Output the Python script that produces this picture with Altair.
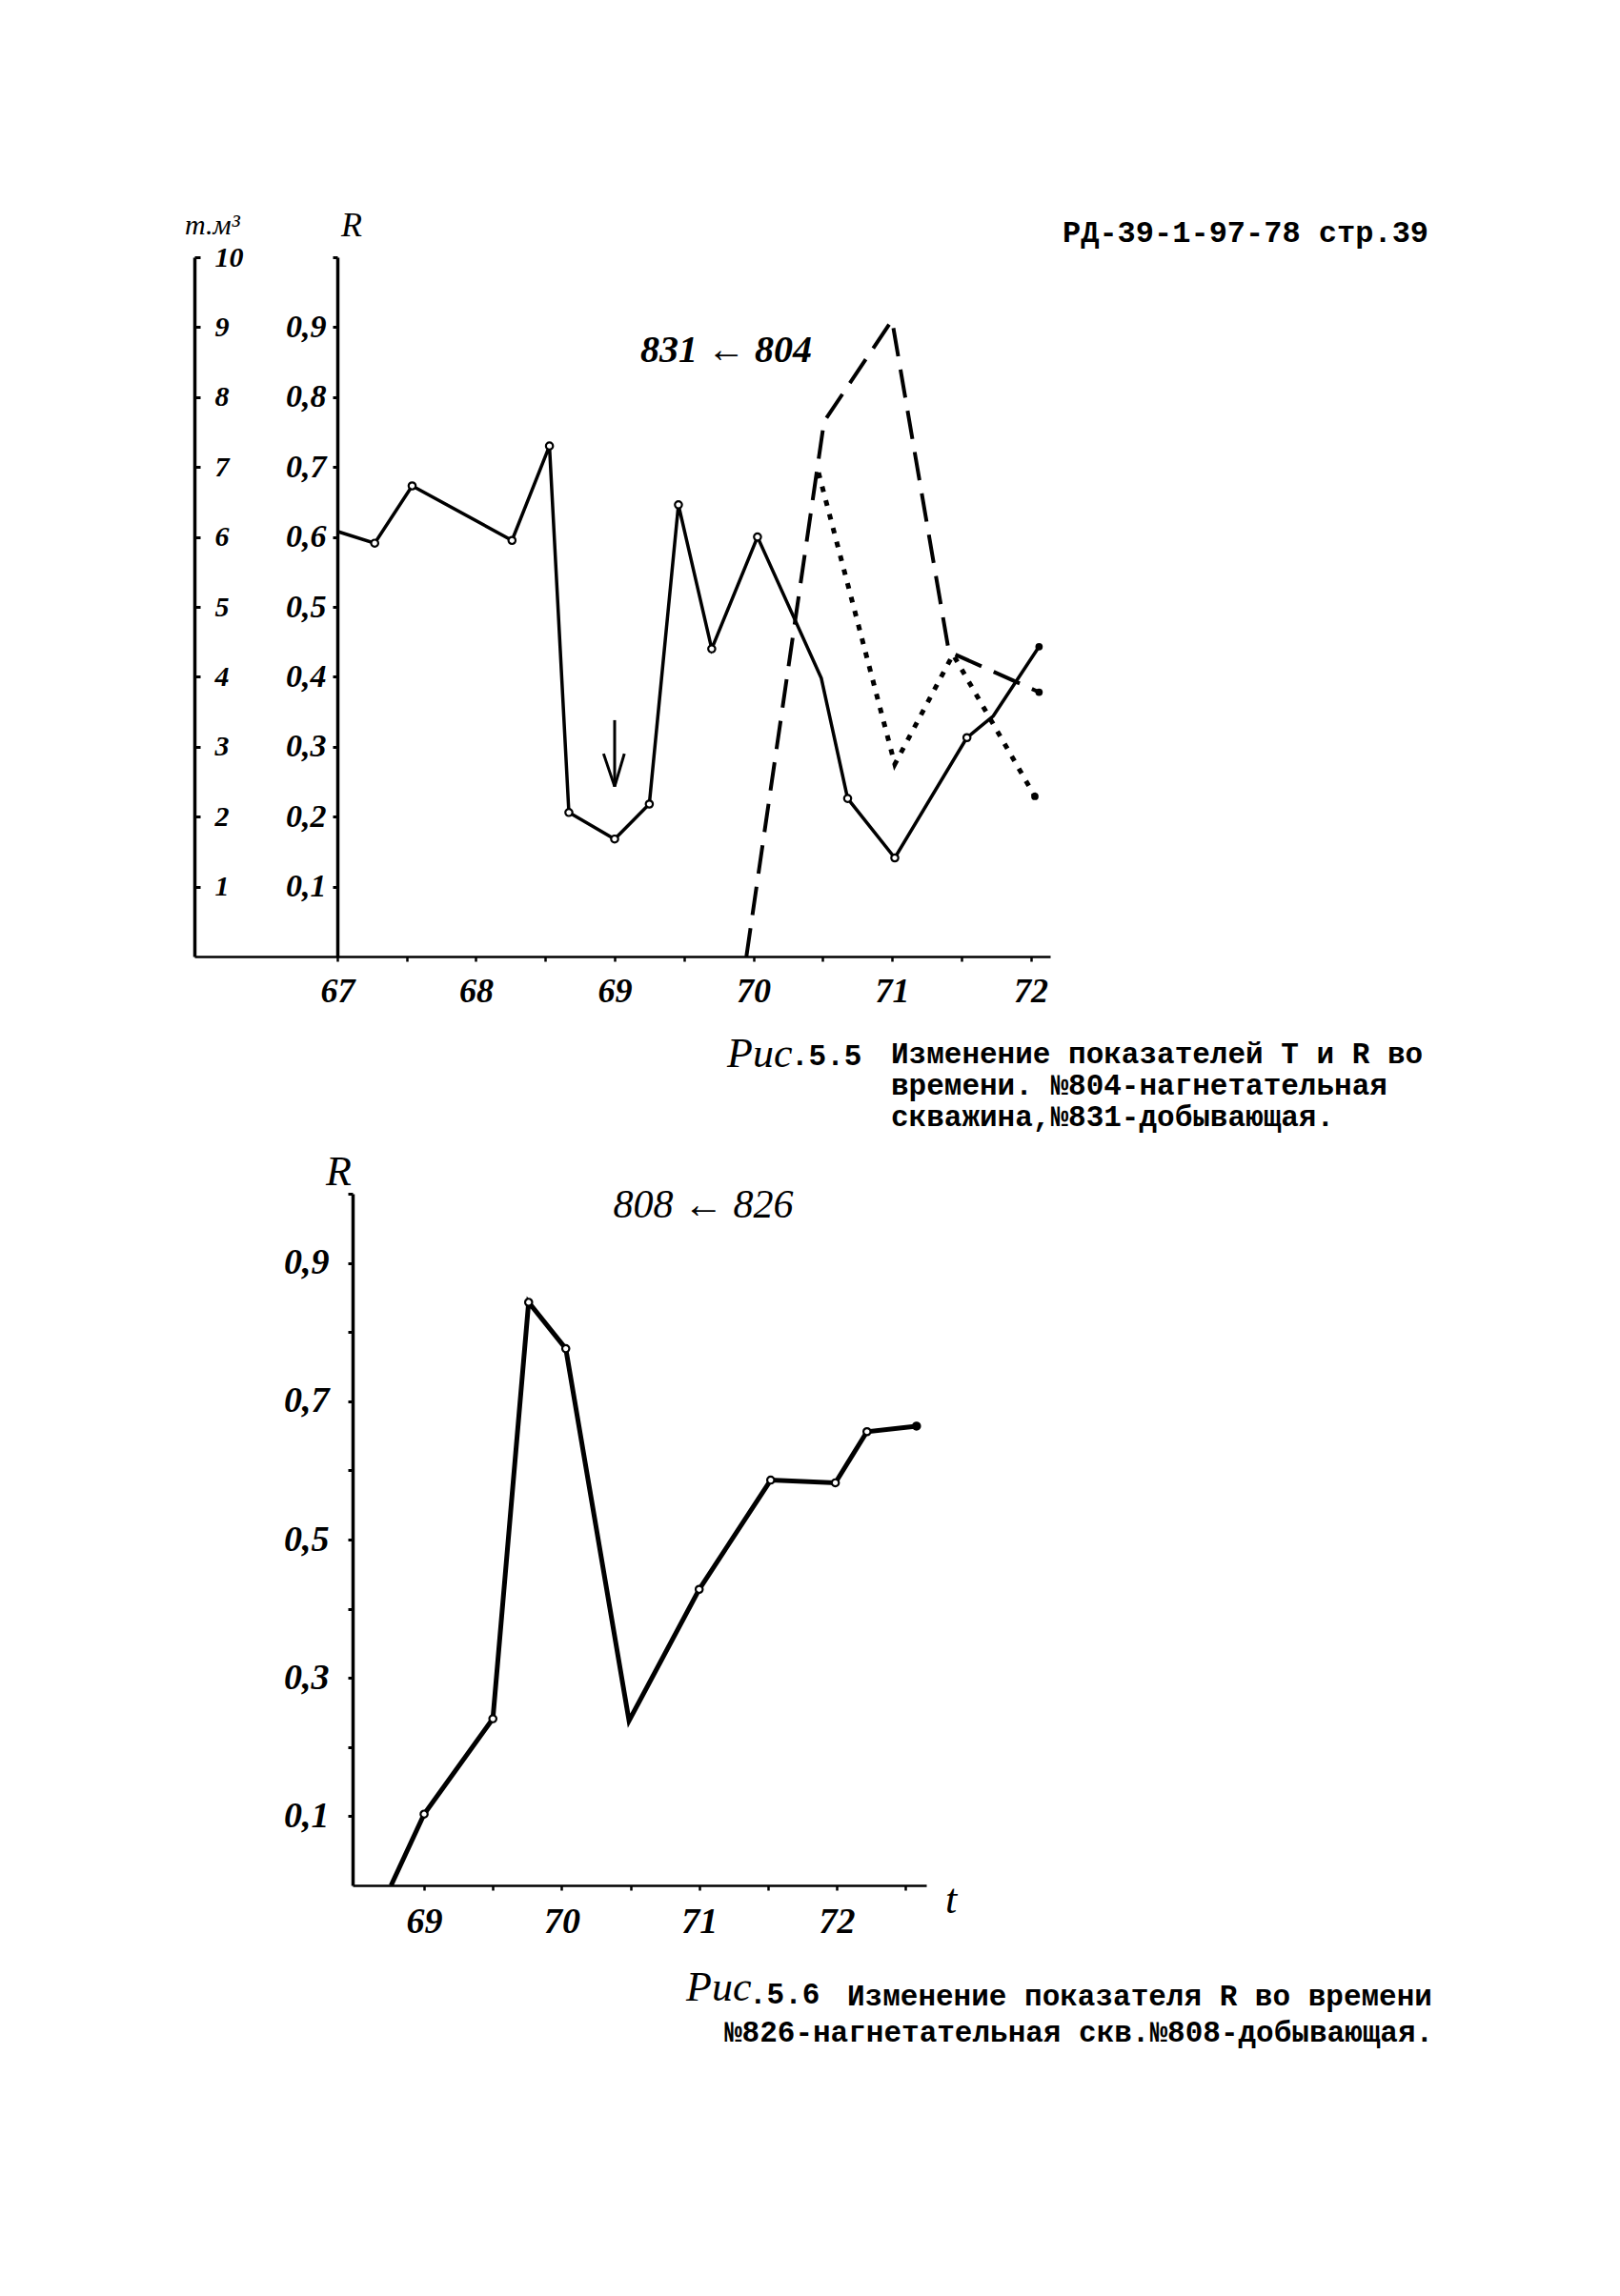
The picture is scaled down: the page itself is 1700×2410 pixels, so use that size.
import altair as alt
import pandas as pd

# ---------------- data ----------------
# Fig 5.5  (831 <- 804)
c1_years = [67.0, 67.27, 67.54, 68.26, 68.53, 68.67, 69.0, 69.25, 69.46, 69.70,
            70.03, 70.49, 70.68, 71.02, 71.54, 71.73, 72.06]
c1_r = [0.608, 0.591, 0.673, 0.595, 0.730, 0.206, 0.168, 0.218, 0.646, 0.440,
        0.600, 0.398, 0.226, 0.141, 0.313, 0.344, 0.443]
c1_circle_idx = [1, 2, 3, 4, 5, 6, 7, 8, 9, 10, 12, 13, 14]

c1_dash_years = [69.95, 70.51, 71.0, 71.41, 72.06]
c1_dash_t = [0.0, 7.65, 9.10, 4.36, 3.78]          # T, thousand m3

c1_dot_years = [70.47, 71.02, 71.44, 72.03]
c1_dot_r = [0.692, 0.275, 0.432, 0.229]

c1_end_years = [72.06, 72.06, 72.03]
c1_end_r = [0.443, 0.378, 0.229]

arrow_x = [69.0, 68.92, 69.07]
arrow_y = [0.338, 0.290, 0.290]
arrow_x2 = [69.0, 69.0, 69.0]
arrow_y2 = [0.243, 0.243, 0.243]

c1_x_ticks = [67, 67.5, 68, 68.5, 69, 69.5, 70, 70.5, 71, 71.5, 72]
c1_r_ticks = [0.1, 0.2, 0.3, 0.4, 0.5, 0.6, 0.7, 0.8, 0.9, 1.0]
c1_t_ticks = [1, 2, 3, 4, 5, 6, 7, 8, 9, 10]

# Fig 5.6  (808 <- 826)
c2_years = [68.76, 69.0, 69.5, 69.76, 70.03, 70.49, 71.0, 71.52, 71.99, 72.22, 72.58]
c2_r = [0.0, 0.103, 0.241, 0.843, 0.776, 0.238, 0.428, 0.586, 0.582, 0.656, 0.664]
c2_circle_idx = [1, 2, 3, 4, 6, 7, 8, 9, 10]

c2_x_ticks = [69, 69.5, 70, 70.5, 71, 71.5, 72, 72.5]
c2_r_ticks = [0.1, 0.2, 0.3, 0.4, 0.5, 0.6, 0.7, 0.8, 0.9, 1.0]

# texts
header_text = "РД-39-1-97-78  стр.39"
title1 = "831 ← 804"
title2 = "808 ← 826"
t_axis_title = "т.м³"
r_axis_title = "R"
t_time = "t"
fig1_no = "Рис"
fig1_num = ".5.5"
fig1_caption = ["Изменение показателей T и R во",
                "времени. №804-нагнетательная",
                "скважина,№831-добывающая."]
fig2_no = "Рис"
fig2_num = ".5.6"
fig2_caption1 = "Изменение показателя R во времени"
fig2_caption2 = "№826-нагнетательная скв.№808-добывающая."

# ---------------- layout ----------------
W, H = 1684, 2394
HAND = "Liberation Serif"
TYPE = "Liberation Mono"

C1_XDOM, C1_XRNG = [65.97, 72.14], [196, 1094]
C1_YDOM, C1_YRNG = [0, 1.0], [996, 262]
C1_TDOM = [0, 10]
C2_XDOM, C2_XRNG = [68.48, 72.651], [362, 964]
C2_YDOM, C2_YRNG = [0, 1.0], [1971, 1245]


def sc(dom, rng):
    return alt.Scale(domain=dom, range=rng, nice=False, zero=False)


def X1(f, axis=None):
    return alt.X(f"{f}:Q", scale=sc(C1_XDOM, C1_XRNG), axis=axis)


def Y1(f, axis=None):
    return alt.Y(f"{f}:Q", scale=sc(C1_YDOM, C1_YRNG), axis=axis)


def X2(f, axis=None):
    return alt.X(f"{f}:Q", scale=sc(C2_XDOM, C2_XRNG), axis=axis)


def Y2(f, axis=None):
    return alt.Y(f"{f}:Q", scale=sc(C2_YDOM, C2_YRNG), axis=axis)


common_axis = dict(grid=False, title=None, domainColor="black", tickColor="black",
                   labelColor="black", labelFont=HAND, labelFontStyle="italic",
                   labelFontWeight="bold", labelOverlap=False, labelFlush=False)

xlab = "datum.value % 1 == 0 ? format(datum.value, 'd') : ''"

ax_x1 = alt.Axis(orient="bottom", offset=996 - H, values=c1_x_ticks, labelExpr=xlab,
                 domainWidth=2.5, tickWidth=2.5, tickSize=5, labelPadding=14,
                 labelFontSize=36, **common_axis)
ax_r1 = alt.Axis(orient="left", offset=-346, values=c1_r_ticks,
                 labelExpr="datum.value < 0.95 ? replace(format(datum.value, '.1f'), '.', ',') : ''",
                 domainWidth=3.5, tickWidth=3, tickSize=5, labelPadding=7,
                 labelFontSize=34, **common_axis)
ax_t1 = alt.Axis(orient="right", offset=196 - W, values=c1_t_ticks, format="d",
                 domainWidth=3.5, tickWidth=3, tickSize=6, labelPadding=15,
                 labelFontSize=30, **common_axis)
ax_x2 = alt.Axis(orient="bottom", offset=1971 - H, values=c2_x_ticks, labelExpr=xlab,
                 domainWidth=2.5, tickWidth=2.5, tickSize=5, labelPadding=14,
                 labelFontSize=38, **common_axis)
ax_r2 = alt.Axis(orient="left", offset=-362, values=c2_r_ticks,
                 labelExpr="(round(datum.value * 10) % 2 == 1) ? replace(format(datum.value, '.1f'), '.', ',') : ''",
                 domainWidth=3.5, tickWidth=3, tickSize=5, labelPadding=20,
                 labelFontSize=38, **common_axis)

df1 = pd.DataFrame({"year": c1_years, "R": c1_r})
df1c = df1.iloc[c1_circle_idx]
dfd = pd.DataFrame({"year": c1_dash_years, "T": c1_dash_t})
dfo = pd.DataFrame({"year": c1_dot_years, "R": c1_dot_r})
dfe = pd.DataFrame({"year": c1_end_years, "R": c1_end_r})
dfa = pd.DataFrame({"x": arrow_x, "y": arrow_y, "x2": arrow_x2, "y2": arrow_y2})
df2 = pd.DataFrame({"year": c2_years, "R": c2_r})
df2c = df2.iloc[c2_circle_idx]
df2e = df2.iloc[[len(c2_years) - 1]]

solid1 = alt.Chart(df1).mark_line(color="black", strokeWidth=3.5).encode(
    x=X1("year", ax_x1), y=Y1("R", ax_r1), order="year:Q")
dash1 = alt.Chart(dfd).mark_line(color="black", strokeWidth=4, strokeDash=[30, 14]).encode(
    x=X1("year"), y=alt.Y("T:Q", scale=sc(C1_TDOM, C1_YRNG), axis=ax_t1), order="year:Q")
dot1 = alt.Chart(dfo).mark_line(color="black", strokeWidth=5, strokeDash=[6, 9]).encode(
    x=X1("year"), y=Y1("R"), order="year:Q")
circ1 = alt.Chart(df1c).mark_point(shape="circle", size=55, filled=True, fill="white",
                                   stroke="black", strokeWidth=2.2, opacity=1).encode(
    x=X1("year"), y=Y1("R"))
end1 = alt.Chart(dfe).mark_point(shape="circle", size=60, filled=True, color="black", opacity=1).encode(
    x=X1("year"), y=Y1("R"))
arrow1 = alt.Chart(dfa).mark_rule(color="black", strokeWidth=3).encode(
    x=X1("x"), y=Y1("y"), x2="x2:Q", y2="y2:Q")

solid2 = alt.Chart(df2).mark_line(color="black", strokeWidth=5).encode(
    x=X2("year", ax_x2), y=Y2("R", ax_r2), order="year:Q")
circ2 = alt.Chart(df2c).mark_point(shape="circle", size=55, filled=True, fill="white",
                                   stroke="black", strokeWidth=2.2, opacity=1).encode(
    x=X2("year"), y=Y2("R"))
end2 = alt.Chart(df2e).mark_point(shape="circle", size=70, filled=True, color="black", opacity=1).encode(
    x=X2("year"), y=Y2("R"))


def txt(s, x, y, size, font=HAND, style="italic", weight="normal", align="left",
        baseline="alphabetic", lh=None):
    props = dict(font=font, fontSize=size, fontStyle=style, fontWeight=weight,
                 align=align, baseline=baseline, color="black")
    if lh:
        props["lineHeight"] = lh
    return alt.Chart(pd.DataFrame({"k": [0]})).mark_text(**props).encode(
        x=alt.value(x), y=alt.value(y), text=alt.value(s))


texts = [
    txt(header_text, 1107, 246, 32, font=TYPE, style="normal", weight="bold"),
    txt(title1, 754, 372, 40, weight="bold", align="center"),
    txt(t_axis_title, 186, 238, 30),
    txt(r_axis_title, 350, 240, 36),
    txt(fig1_no, 755, 1112, 44),
    txt(fig1_num, 822, 1110, 31, font=TYPE, style="normal", weight="bold"),
    txt(fig1_caption, 927, 1108, 31, font=TYPE, style="normal", weight="bold", lh=33),
    txt(title2, 730, 1270, 42, align="center"),
    txt(r_axis_title, 334, 1236, 44),
    txt(t_time, 990, 2000, 44, align="center"),
    txt(fig2_no, 712, 2092, 44),
    txt(fig2_num, 778, 2095, 31, font=TYPE, style="normal", weight="bold"),
    txt(fig2_caption1, 881, 2097, 31, font=TYPE, style="normal", weight="bold"),
    txt(fig2_caption2, 752, 2135, 31, font=TYPE, style="normal", weight="bold"),
]

chart = alt.layer(
    solid1, dash1, dot1, circ1, end1, arrow1, solid2, circ2, end2, *texts
).resolve_scale(x="independent", y="independent").resolve_axis(
    x="independent", y="independent"
).properties(
    width=W, height=H, padding=0,
    autosize=alt.AutoSizeParams(type="none"),
    background="white",
).configure_view(stroke=None)

chart.save("out.html", embed_options={"renderer": "svg", "actions": False})
